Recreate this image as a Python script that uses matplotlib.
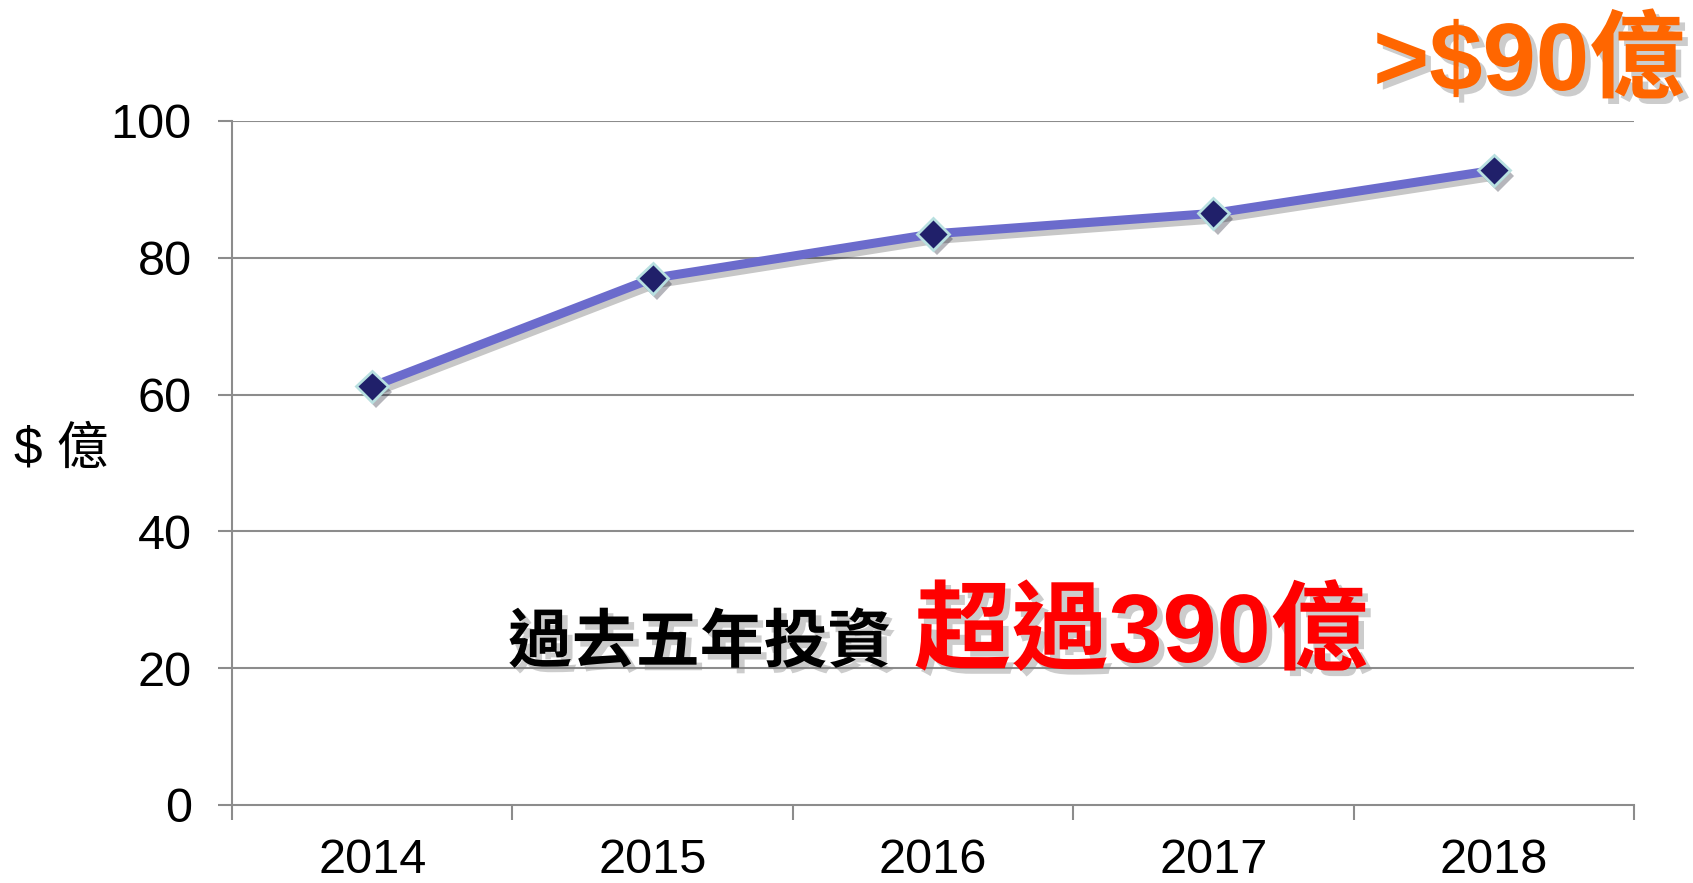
import matplotlib
matplotlib.use("Agg")
import matplotlib.pyplot as plt
import matplotlib.patheffects as pe

years = ["2014", "2015", "2016", "2017", "2018"]
values = [61.2, 77.0, 83.5, 86.5, 92.8]
yticks = [0, 20, 40, 60, 80, 100]
ylabel = "$ 億"
caption_black = "過去五年投資"
caption_red = "超過390億"
corner_text = ">$90億"

LAT = "Liberation Sans"
CJK = "Noto Sans CJK TC"

fig = plt.figure(figsize=(16.93, 8.83), dpi=100)
ax = fig.add_axes([232/1693, 1-805/883, (1634-232)/1693, (805-121)/883])

x = list(range(len(years)))
shadow = [pe.SimpleLineShadow(offset=(2, -4), shadow_color="black", alpha=0.22), pe.Normal()]
ax.plot(x, values, color="#6B6BCC", lw=6.5, solid_capstyle="butt", zorder=3,
        path_effects=shadow)
ax.plot(x, values, linestyle="none", marker="D", markersize=16, markerfacecolor="#20206A",
        markeredgecolor="#B8E0E0", markeredgewidth=2, zorder=4,
        path_effects=[pe.SimplePatchShadow(offset=(3, -4), alpha=0.3), pe.Normal()])

ax.set_xlim(-0.5, len(years) - 0.5)
ax.set_ylim(0, 100)
ax.set_yticks(yticks)
ax.set_yticklabels([str(v) for v in yticks], fontfamily=LAT, fontsize=35)
ax.set_xticks(x)
ax.set_xticklabels(years, fontfamily=LAT, fontsize=35)
ax.set_xticks([i - 0.5 for i in range(len(years) + 1)], minor=True)
ax.tick_params(axis="x", which="major", length=0, pad=24)
ax.tick_params(axis="x", which="minor", length=11, width=1.5, color="#8C8C8C", direction="out")
ax.tick_params(axis="y", which="major", length=10, width=1.5, color="#8C8C8C", pad=19)
for y in yticks[1:]:
    ax.axhline(y, color="#8C8C8C", lw=1.5, zorder=1)
for s in ["top", "right"]:
    ax.spines[s].set_visible(False)
for s in ["left", "bottom"]:
    ax.spines[s].set_color("#8C8C8C")
    ax.spines[s].set_linewidth(1.5)

fig.text(61/1693, 1-450/883, ylabel, family=[LAT, CJK], fontsize=37, ha="center", va="center")

tshadow = [pe.withSimplePatchShadow(offset=(4, -4), shadow_rgbFace="#808080", alpha=0.4)]
fig.text(508/1693, 1-662/883, caption_black, family=[LAT, CJK], fontweight="bold",
         fontsize=46, color="black", ha="left", va="baseline", path_effects=tshadow)
fig.text(914/1693, 1-662/883, caption_red, family=[LAT, CJK], fontweight="bold",
         fontsize=70, color="#FF0000", ha="left", va="baseline", path_effects=tshadow)
fig.text(1685/1693, 1-90/883, corner_text, family=[LAT, CJK], fontweight="bold",
         fontsize=69, color="#FF6600", ha="right", va="baseline", path_effects=tshadow)

fig.savefig("out.png", dpi=100)
